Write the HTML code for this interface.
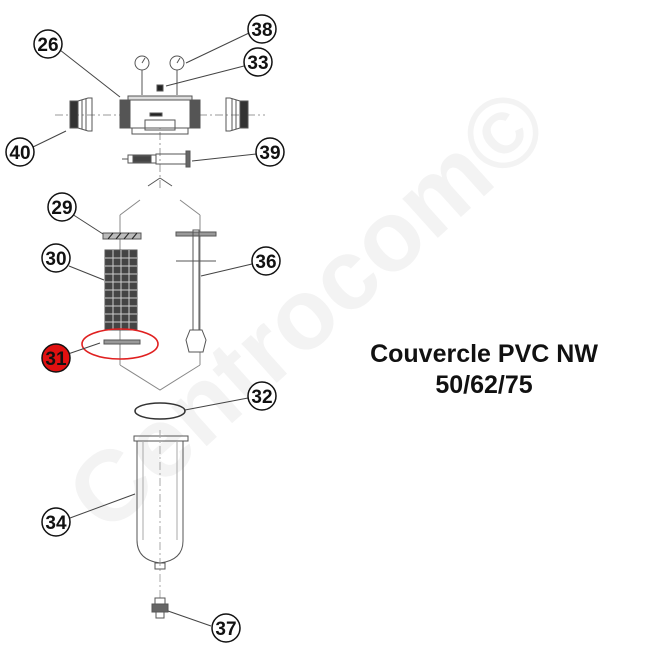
<!DOCTYPE html>
<html><head><meta charset="utf-8"><style>
html,body{margin:0;padding:0;background:#fff;}
svg{display:block;}
</style></head><body>
<svg width="650" height="650" viewBox="0 0 650 650" xmlns="http://www.w3.org/2000/svg">
<rect width="650" height="650" fill="#fff"/>
<!-- watermark -->
<text x="330" y="335" transform="rotate(-42 330 335)" text-anchor="middle" font-family="Liberation Sans, sans-serif" font-weight="bold" font-size="100" fill="#f3f3f3">Centrocom©</text>

<g stroke="#555" fill="none" stroke-width="1">
<line x1="160" y1="100" x2="160" y2="190" stroke="#999" stroke-dasharray="8 3 2 3"/>
<line x1="55" y1="115" x2="265" y2="115" stroke="#999" stroke-dasharray="8 3 2 3"/>
<circle cx="142" cy="63" r="7"/><circle cx="177" cy="63" r="7"/>
<line x1="142" y1="70" x2="142" y2="95"/><line x1="177" y1="70" x2="177" y2="95"/>
<line x1="142" y1="63" x2="145" y2="58"/><line x1="177" y1="63" x2="180" y2="58"/>
<rect x="157" y="85" width="6" height="6" fill="#222"/>
<rect x="128" y="96" width="64" height="6" fill="#ddd"/>
<rect x="120" y="100" width="80" height="28" fill="#fff"/>
<rect x="120" y="100" width="10" height="28" fill="#555"/>
<rect x="190" y="100" width="10" height="28" fill="#555"/>
<rect x="150" y="113" width="12" height="3" fill="#222"/>
<rect x="145" y="120" width="30" height="10"/>
<rect x="132" y="128" width="56" height="6"/>
<rect x="70" y="101" width="8" height="27" fill="#333"/>
<path d="M78 101 L88 98 L92 98 L92 131 L88 131 L78 128 Z"/>
<line x1="82" y1="100" x2="82" y2="129"/><line x1="86" y1="99" x2="86" y2="130"/>
<rect x="240" y="101" width="8" height="27" fill="#333"/>
<path d="M240 101 L230 98 L226 98 L226 131 L230 131 L240 128 Z"/>
<line x1="236" y1="100" x2="236" y2="129"/><line x1="232" y1="99" x2="232" y2="130"/>
<rect x="128" y="155" width="28" height="8"/>
<rect x="133" y="156" width="18" height="6" fill="#444"/>
<rect x="156" y="154" width="30" height="10"/>
<rect x="186" y="151" width="4" height="16" fill="#666"/>
<line x1="122" y1="159" x2="128" y2="159"/>
<path d="M160 178 L148 186 M160 178 L172 186"/>
<path d="M120 215 L140 200 M200 215 L180 200" stroke="#888"/>
<line x1="120" y1="215" x2="120" y2="365" stroke="#888"/>
<line x1="200" y1="215" x2="200" y2="365" stroke="#888"/>
<path d="M120 365 L160 390 L200 365" stroke="#888"/>
<rect x="103" y="233" width="38" height="6" fill="#bbb"/>
<path d="M108 239 L113 233 M116 239 L121 233 M124 239 L129 233 M132 239 L137 233" stroke="#222"/>
<rect x="105" y="250" width="32" height="80" fill="#444"/>
<path d="M105 258H137M105 266H137M105 274H137M105 282H137M105 290H137M105 298H137M105 306H137M105 314H137M105 322H137M113 250V330M121 250V330M129 250V330" stroke="#ccc" stroke-width="1"/>
<rect x="104" y="340" width="36" height="4" fill="#999"/>
<ellipse cx="120" cy="344" rx="38" ry="15" stroke="#e02020" stroke-width="1.6"/>
<rect x="176" y="232" width="40" height="4" fill="#999"/>
<line x1="176" y1="261" x2="216" y2="261"/>
<rect x="193" y="230" width="6" height="100"/>
<path d="M190 330 L202 330 L206 340 L203 352 L189 352 L186 340 Z" fill="#fff"/>
<ellipse cx="160" cy="411" rx="25" ry="8" stroke="#333" stroke-width="1.5"/>
<rect x="134" y="436" width="54" height="5"/>
<path d="M137 441 L137 540 Q137 560 160 563 Q183 560 183 541 L183 441"/>
<path d="M143 441 L143 540 M177 441 L177 540" stroke="#aaa"/>
<line x1="160" y1="430" x2="160" y2="600" stroke="#aaa" stroke-dasharray="8 3 2 3"/>
<rect x="155" y="563" width="10" height="6"/>
<rect x="155" y="598" width="10" height="6"/>
<rect x="152" y="604" width="16" height="8" fill="#666"/>
<rect x="156" y="612" width="8" height="6"/>
</g>

<g stroke="#444" stroke-width="1" fill="none">
<line x1="60" y1="50" x2="120" y2="97"/>
<line x1="249" y1="33" x2="186" y2="63"/>
<line x1="244" y1="66" x2="166" y2="86"/>
<line x1="33" y1="147" x2="66" y2="131"/>
<line x1="256" y1="154" x2="192" y2="161"/>
<line x1="72" y1="214" x2="103" y2="234"/>
<line x1="69" y1="266" x2="104" y2="280"/>
<line x1="252" y1="264" x2="201" y2="276"/>
<line x1="68" y1="354" x2="100" y2="343"/>
<line x1="248" y1="398" x2="185" y2="410"/>
<line x1="70" y1="518" x2="135" y2="494"/>
<line x1="211" y1="626" x2="168" y2="611"/>
</g>

<g font-family="Liberation Sans Narrow, Liberation Sans, sans-serif" font-size="19" font-weight="bold" text-anchor="middle">
<g stroke="#111" stroke-width="1.5" fill="#fff">
<circle cx="48" cy="44" r="14"/><circle cx="262" cy="29" r="14"/><circle cx="258" cy="62" r="14"/>
<circle cx="20" cy="152" r="14"/><circle cx="270" cy="152" r="14"/><circle cx="62" cy="207" r="14"/>
<circle cx="56" cy="258" r="14"/><circle cx="266" cy="261" r="14"/><circle cx="56" cy="358" r="14" fill="#e01010"/>
<circle cx="262" cy="396" r="14"/><circle cx="56" cy="522" r="14"/><circle cx="226" cy="628" r="14"/>
</g>
<g fill="#111">
<text x="48" y="51">26</text><text x="262" y="36">38</text><text x="258" y="69">33</text>
<text x="20" y="159">40</text><text x="270" y="159">39</text><text x="62" y="214">29</text>
<text x="56" y="265">30</text><text x="266" y="268">36</text><text x="56" y="365">31</text>
<text x="262" y="403">32</text><text x="56" y="529">34</text><text x="226" y="635">37</text>
</g>
</g>

<g font-family="Liberation Sans, sans-serif" font-weight="bold" font-size="25" fill="#111" text-anchor="middle">
<text x="484" y="362">Couvercle PVC NW</text>
<text x="484" y="393">50/62/75</text>
</g>
</svg>
</body></html>
